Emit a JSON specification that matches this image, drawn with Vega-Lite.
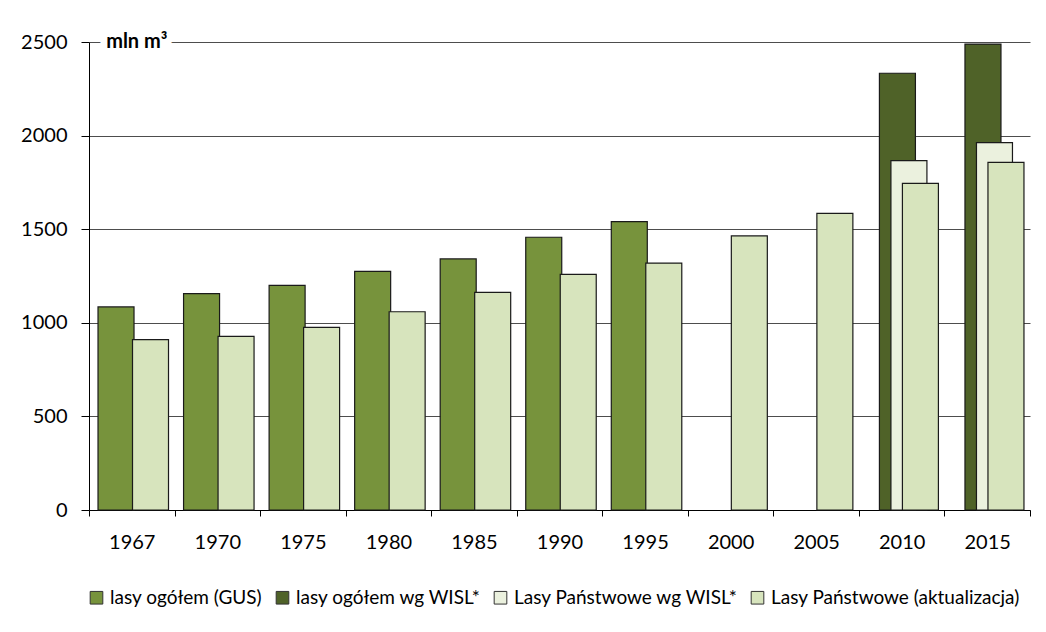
{
  "$schema": "https://vega.github.io/schema/vega-lite/v6.json",
  "width": 941,
  "height": 468,
  "autosize": "none",
  "padding": {"left": 89, "top": 42, "right": 16, "bottom": 122},
  "background": "#ffffff",
  "config": {
    "font": "Lato",
    "view": {"stroke": null},
    "axis": {"labelFont": "Lato", "labelFontSize": 20, "labelColor": "#000000", "domainColor": "#000000", "tickColor": "#000000", "titleFont": "Lato"}
  },
  "layer": [
    {
      "data": {
        "values": [
          {"year": "1967", "series": "lasy ogółem (GUS)", "value": 1085},
          {"year": "1970", "series": "lasy ogółem (GUS)", "value": 1156},
          {"year": "1975", "series": "lasy ogółem (GUS)", "value": 1200},
          {"year": "1980", "series": "lasy ogółem (GUS)", "value": 1275},
          {"year": "1985", "series": "lasy ogółem (GUS)", "value": 1341},
          {"year": "1990", "series": "lasy ogółem (GUS)", "value": 1457},
          {"year": "1995", "series": "lasy ogółem (GUS)", "value": 1540},
          {"year": "2010", "series": "lasy ogółem wg WISL*", "value": 2333},
          {"year": "2015", "series": "lasy ogółem wg WISL*", "value": 2489},
          {"year": "2010", "series": "Lasy Państwowe wg WISL*", "value": 1866},
          {"year": "2015", "series": "Lasy Państwowe wg WISL*", "value": 1962},
          {"year": "1967", "series": "Lasy Państwowe (aktualizacja)", "value": 910},
          {"year": "1970", "series": "Lasy Państwowe (aktualizacja)", "value": 928},
          {"year": "1975", "series": "Lasy Państwowe (aktualizacja)", "value": 976},
          {"year": "1980", "series": "Lasy Państwowe (aktualizacja)", "value": 1059},
          {"year": "1985", "series": "Lasy Państwowe (aktualizacja)", "value": 1163},
          {"year": "1990", "series": "Lasy Państwowe (aktualizacja)", "value": 1259},
          {"year": "1995", "series": "Lasy Państwowe (aktualizacja)", "value": 1319},
          {"year": "2000", "series": "Lasy Państwowe (aktualizacja)", "value": 1464},
          {"year": "2005", "series": "Lasy Państwowe (aktualizacja)", "value": 1585},
          {"year": "2010", "series": "Lasy Państwowe (aktualizacja)", "value": 1745},
          {"year": "2015", "series": "Lasy Państwowe (aktualizacja)", "value": 1857}
        ]
      },
      "mark": {"type": "bar", "width": 36, "stroke": "#1a1a1a", "strokeWidth": 1.2},
      "encoding": {
        "x": {
          "field": "year", "type": "nominal",
          "scale": {"domain": ["1967", "1970", "1975", "1980", "1985", "1990", "1995", "2000", "2005", "2010", "2015"], "paddingInner": 0, "paddingOuter": 0},
          "axis": {"title": null, "labelAngle": 0, "tickBand": "extent", "tickSize": 6, "labelPadding": 16, "domainWidth": 1, "grid": false}
        },
        "xOffset": {
          "field": "series", "type": "nominal",
          "scale": {"domain": ["_a", "lasy ogółem (GUS)", "lasy ogółem wg WISL*", "Lasy Państwowe wg WISL*", "Lasy Państwowe (aktualizacja)", "_b"], "paddingInner": 0, "paddingOuter": 0.72, "align": 0.59}
        },
        "y": {
          "field": "value", "type": "quantitative",
          "scale": {"domain": [0, 2500], "nice": false},
          "axis": {"title": null, "values": [0, 500, 1000, 1500, 2000, 2500], "format": "d", "grid": true, "gridColor": "#4d4d4d", "gridWidth": 1, "tickSize": 8, "labelPadding": 14, "domain": true}
        },
        "color": {
          "field": "series", "type": "nominal",
          "scale": {"domain": ["lasy ogółem (GUS)", "lasy ogółem wg WISL*", "Lasy Państwowe wg WISL*", "Lasy Państwowe (aktualizacja)"], "range": ["#77933c", "#4f6228", "#ebf1de", "#d7e4bd"]},
          "legend": {"title": null, "orient": "none", "legendX": -2, "legendY": 546, "direction": "horizontal", "symbolType": "square", "symbolSize": 160, "symbolStrokeColor": "#333333", "symbolStrokeWidth": 1, "labelFont": "Lato", "labelFontSize": 19, "labelLimit": 0, "labelColor": "#000000", "labelOffset": 4, "columnPadding": 10, "symbolOpacity": 1}
        }
      }
    },
    {
      "data": {"values": [{"label": "mln m³"}]},
      "mark": {"type": "text", "fontWeight": "bold", "fontSize": 20, "baseline": "middle", "dx": 5, "fill": "#ffffff", "stroke": "#ffffff", "strokeWidth": 14},
      "encoding": {
        "x": {"datum": "1967", "type": "nominal"},
        "y": {"datum": 2500, "type": "quantitative"},
        "text": {"field": "label"}
      }
    },
    {
      "data": {"values": [{"label": "mln m³"}]},
      "mark": {"type": "text", "fontWeight": "bold", "fontSize": 20, "baseline": "middle", "dx": 5, "fill": "#000000"},
      "encoding": {
        "x": {"datum": "1967", "type": "nominal"},
        "y": {"datum": 2500, "type": "quantitative"},
        "text": {"field": "label"}
      }
    }
  ]
}
